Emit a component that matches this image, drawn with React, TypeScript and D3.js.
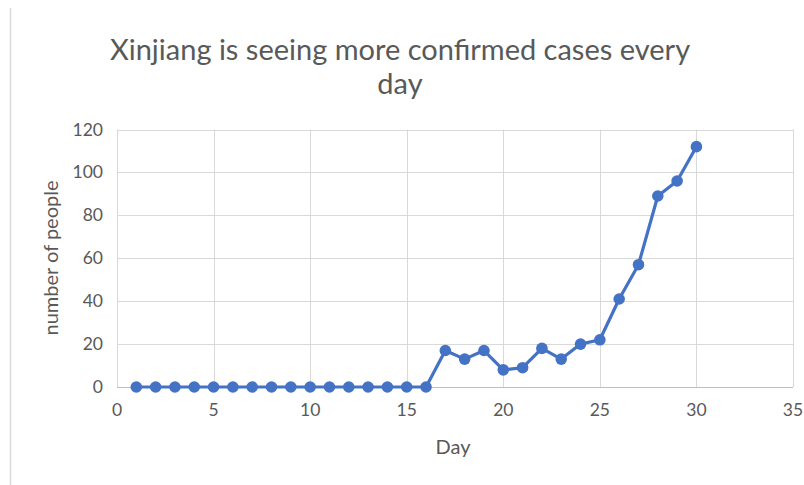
import React from "react";
import * as d3 from "d3";

// Daily confirmed cases, day 1 through day 30
const days: number[] = d3.range(1, 31);
const cases: number[] = [
  0, 0, 0, 0, 0, 0, 0, 0, 0, 0, 0, 0, 0, 0, 0, 0,
  17, 13, 17, 8, 9, 18, 13, 20, 22, 41, 57, 89, 96, 112,
];
const xTicks: number[] = [0, 5, 10, 15, 20, 25, 30, 35];
const yTicks: number[] = [0, 20, 40, 60, 80, 100, 120];

const titleLines: string[] = ["Xinjiang is seeing more confirmed cases every", "day"];
const xTitle = "Day";
const yTitle = "number of people";

const W = 804;
const H = 485;
const FONT = "Lato, 'Open Sans', sans-serif";
const TEXT = "#595959";
const GRID = "#d9d9d9";
const BLUE = "#4472c4";

export default function App() {
  const x = d3.scaleLinear().domain([0, 35]).range([117, 793]);
  const y = d3.scaleLinear().domain([0, 120]).range([387, 129.5]);

  const points = days.map((d, i) => ({ d, v: cases[i] }));
  const line = d3
    .line<{ d: number; v: number }>()
    .x((p) => x(p.d))
    .y((p) => y(p.v));

  return (
    <svg
      width={W}
      height={H}
      style={{ position: "absolute", left: 0, top: 0, background: "#fff" }}
      fontFamily={FONT}
    >
      <rect x={0} y={0} width={W} height={H} fill="#fff" />
      {/* outer chart frame edge */}
      <line x1={10.5} x2={10.5} y1={8} y2={485} stroke="#d9d9d9" strokeWidth={1.5} />

      {/* title */}
      {titleLines.map((t, i) => (
        <text
          key={i}
          x={400}
          y={60 + i * 34}
          textAnchor="middle"
          fontSize={29}
          fill={TEXT}
        >
          {t}
        </text>
      ))}

      {/* gridlines */}
      {yTicks.map((t) => (
        <line
          key={"h" + t}
          x1={x(0)}
          x2={x(35)}
          y1={Math.round(y(t)) + 0.5}
          y2={Math.round(y(t)) + 0.5}
          stroke={t === 0 ? "#bfbfbf" : GRID}
          strokeWidth={1}
        />
      ))}
      {xTicks.map((t) => (
        <line
          key={"v" + t}
          x1={Math.round(x(t)) + 0.5}
          x2={Math.round(x(t)) + 0.5}
          y1={y(120)}
          y2={y(0)}
          stroke={GRID}
          strokeWidth={1}
        />
      ))}

      {/* tick labels */}
      {yTicks.map((t) => (
        <text
          key={"yl" + t}
          x={103}
          y={y(t) + 6}
          textAnchor="end"
          fontSize={17.5}
          fill={TEXT}
        >
          {t}
        </text>
      ))}
      {xTicks.map((t) => (
        <text
          key={"xl" + t}
          x={x(t)}
          y={416}
          textAnchor="middle"
          fontSize={17.5}
          fill={TEXT}
        >
          {t}
        </text>
      ))}

      {/* axis titles */}
      <text x={453} y={454} textAnchor="middle" fontSize={20} fill={TEXT}>
        {xTitle}
      </text>
      <text
        transform={`translate(58,258) rotate(-90)`}
        textAnchor="middle"
        fontSize={20}
        fill={TEXT}
      >
        {yTitle}
      </text>

      {/* series */}
      <path
        d={line(points) ?? ""}
        fill="none"
        stroke={BLUE}
        strokeWidth={3.2}
        strokeLinejoin="round"
      />
      {points.map((p) => (
        <circle key={p.d} cx={x(p.d)} cy={y(p.v)} r={5.8} fill={BLUE} />
      ))}
    </svg>
  );
}
